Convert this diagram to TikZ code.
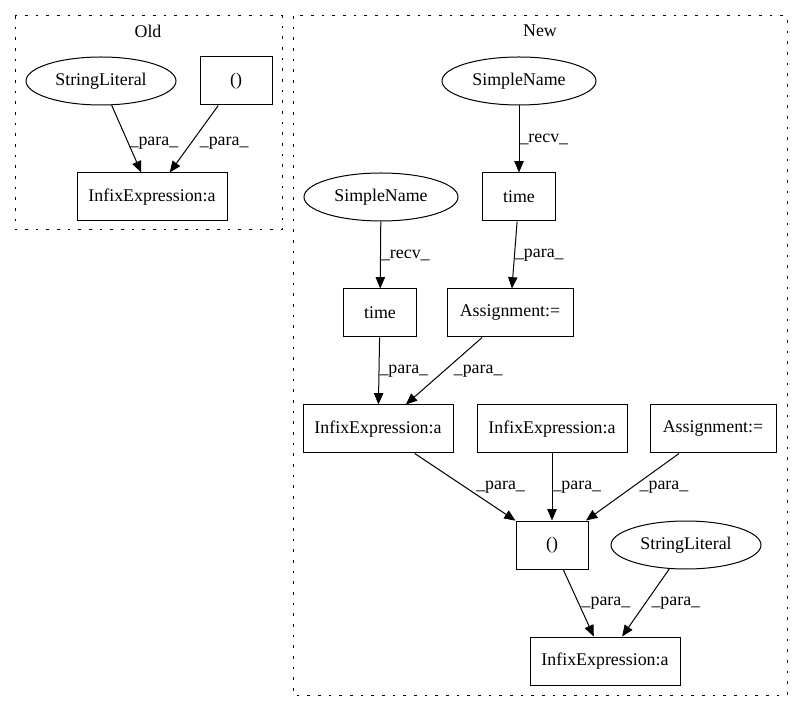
\documentclass[tikz,border=0pt]{standalone}
\usepackage{fontspec}
\setmainfont{Liberation Serif}
\usetikzlibrary{shapes.geometric,arrows.meta}

\tikzset{
  astbox/.style={draw, rectangle, minimum height=36pt, inner sep=2pt, line width=0.75pt},
  astleaf/.style={draw, ellipse, minimum height=36pt, inner sep=1pt, line width=0.75pt},
  flow/.style={-{Triangle[length=8.5pt,width=7pt]}, line width=0.75pt},
  elbl/.style={anchor=west, inner sep=0pt},
  cluster/.style={dash pattern=on 2pt off 6pt, line width=0.75pt},
}

\begin{document}
\begin{tikzpicture}[x=0.75pt, y=-0.75pt, font=\fontsize{13.4}{16}\selectfont]
    \useasboundingbox (0,0) rectangle (803,712);
    % Old
    \begin{scope}
      \draw[cluster] (15,16) rectangle (282,230);
      \node (oldtitle) at (148,31) {Old};
      \node[astleaf, minimum width=112.5pt] (oldstr) at (101,81) {StringLiteral};
      \node[astbox, minimum width=54pt] (oldcall) at (236,81) {()};
      \node[astbox, minimum width=112.5pt] (oldinfix) at (152,197) {InfixExpression:a};
      \draw[flow] (oldstr) -- (oldinfix) node[elbl, midway, xshift=2pt, yshift=-3pt]{\_para\_};
      \draw[flow] (oldcall) -- (oldinfix) node[elbl, midway, xshift=4pt, yshift=-3pt]{\_para\_};
    \end{scope}
    % New
    \begin{scope}
      \draw[cluster] (293,16) rectangle (787,695);
      \node (newtitle) at (540,31) {New};
      \node[astleaf, minimum width=115.5pt] (sname1) at (519,81) {SimpleName};
      \node[astbox, minimum width=55pt] (time1) at (519,197) {time};
      \node[astleaf, minimum width=115.5pt] (sname2) at (381,197) {SimpleName};
      \node[astbox, minimum width=55pt] (time2) at (380,313) {time};
      \node[astbox, minimum width=94.5pt] (assign1) at (510,313) {Assignment:=};
      \node[astbox, minimum width=112.5pt] (infixl) at (378,429) {InfixExpression:a};
      \node[astbox, minimum width=112.5pt] (infixm) at (552,429) {InfixExpression:a};
      \node[astbox, minimum width=94.5pt] (assign2) at (713,429) {Assignment:=};
      \node[astbox, minimum width=54pt] (call) at (552,545) {()};
      \node[astleaf, minimum width=112.5pt] (strlit) at (686,545) {StringLiteral};
      \node[astbox, minimum width=112.5pt] (infixb) at (605,661) {InfixExpression:a};

      \draw[flow] (sname1) -- (time1) node[elbl, midway]{\_recv\_};
      \draw[flow] (sname2) -- (time2) node[elbl, midway]{\_recv\_};
      \draw[flow] (time1) -- (assign1) node[elbl, midway]{\_para\_};
      \draw[flow] (time2) -- (infixl) node[elbl, midway]{\_para\_};
      \draw[flow] (assign1) -- (infixl) node[elbl, midway, xshift=7pt]{\_para\_};
      \draw[flow] (infixl) -- (call) node[elbl, midway, xshift=8pt]{\_para\_};
      \draw[flow] (infixm) -- (call) node[elbl, midway]{\_para\_};
      \draw[flow] (assign2) -- (call) node[elbl, midway, xshift=5pt]{\_para\_};
      \draw[flow] (call) -- (infixb) node[elbl, midway, xshift=2pt]{\_para\_};
      \draw[flow] (strlit) -- (infixb) node[elbl, midway, xshift=4pt]{\_para\_};
    \end{scope}
\end{tikzpicture}
\end{document}
